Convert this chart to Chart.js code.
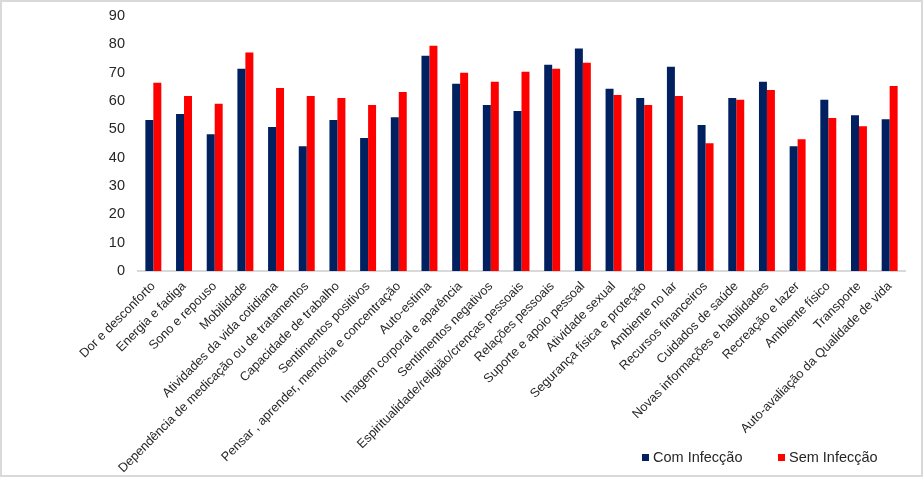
<!DOCTYPE html>
<html>
<head>
<meta charset="utf-8">
<script src="https://cdn.jsdelivr.net/npm/chart.js@4"></script>
<style>
  html, body { margin: 0; padding: 0; background: #fff; }
  #wrap { position: relative; width: 923px; height: 477px; box-sizing: border-box; border: 2px solid #d9d9d9; background: #fff; }
  #wrap canvas { display: block; }
  .leg { position: absolute; top: 447px; font-family: "Liberation Sans", Arial, sans-serif; font-size: 14.5px; color: #262626; display: flex; align-items: center; white-space: nowrap; }
  .leg span.sw { display: inline-block; width: 7px; height: 7px; margin-right: 4px; }
</style>
</head>
<body>
<div id="wrap"><canvas id="c"></canvas>
  <div class="leg" style="left:640px"><span class="sw" style="background:#002060"></span>Com Infecção</div>
  <div class="leg" style="left:776px"><span class="sw" style="background:#FF0000"></span>Sem Infecção</div>
</div>
<script>
const categories = [
  "Dor e desconforto", "Energia e fadiga", "Sono e repouso", "Mobilidade",
  "Atividades da vida cotidiana", "Dependência de medicação ou de tratamentos",
  "Capacidade de trabalho", "Sentimentos positivos",
  "Pensar , aprender, memória e concentração", "Auto-estima",
  "Imagem corporal e aparência", "Sentimentos negativos",
  "Espiritualidade/religião/crenças pessoais", "Relações pessoais",
  "Suporte e apoio pessoal", "Atividade sexual", "Segurança física e proteção",
  "Ambiente no lar", "Recursos financeiros", "Cuidados de saúde",
  "Novas informações e habilidades", "Recreação e lazer", "Ambiente físico",
  "Transporte", "Auto-avaliação da Qualidade de vida"
];
const comInfeccao = [53.3, 55.4, 48.3, 71.4, 50.8, 44.0, 53.3, 46.9, 54.3, 76.0,
  66.1, 58.6, 56.5, 72.8, 78.5, 64.3, 61.1, 72.1, 51.5, 61.1, 66.8, 44.0, 60.4, 55.0, 53.6];
const semInfeccao = [66.4, 61.8, 59.0, 77.1, 64.6, 61.8, 61.1, 58.6, 63.2, 79.5,
  70.0, 66.8, 70.3, 71.4, 73.5, 62.1, 58.6, 61.8, 45.1, 60.4, 63.9, 46.5, 54.0, 51.1, 65.3];
const seriesNames = ["Com Infecção", "Sem Infecção"];
const yTicks = { min: 0, max: 90, step: 10 };

const FONT = "'Liberation Sans', Arial, sans-serif";
new Chart(document.getElementById('c'), {
  type: 'bar',
  data: {
    labels: categories,
    datasets: [
      { label: seriesNames[0], data: comInfeccao, backgroundColor: '#002060', barPercentage: 1, categoryPercentage: 0.52 },
      { label: seriesNames[1], data: semInfeccao, backgroundColor: '#FF0000', barPercentage: 1, categoryPercentage: 0.52 }
    ]
  },
  options: {
    responsive: true,
    maintainAspectRatio: false,
    animation: false,
    layout: { padding: { top: 14, right: 16, left: 0, bottom: 0 } },
    plugins: { legend: { display: false }, tooltip: { enabled: false } },
    scales: {
      x: {
        grid: { display: false },
        border: { display: true, color: '#d9d9d9', width: 2 },
        ticks: { maxRotation: 45, minRotation: 45, autoSkip: false, padding: 0,
                 color: '#262626', font: { family: FONT, size: 12.7 } },
        afterFit: (s) => { s.height = 473 - 269; }
      },
      y: {
        min: yTicks.min, max: yTicks.max,
        grid: { display: false },
        border: { display: false },
        ticks: { stepSize: yTicks.step, padding: 5, color: '#262626', font: { family: FONT, size: 14.5 } },
        afterFit: (s) => { s.width = 136; }
      }
    }
  }
});
</script>
</body>
</html>
